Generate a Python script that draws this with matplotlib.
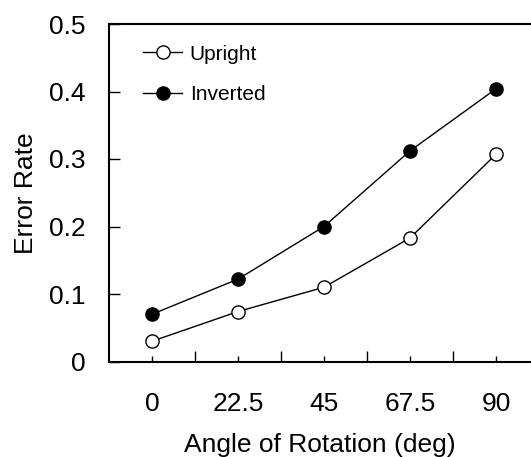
import matplotlib.pyplot as plt
from matplotlib.ticker import FixedLocator, FuncFormatter

plt.rcParams['font.family'] = ['Liberation Sans', 'DejaVu Sans']

angles = ['0', '22.5', '45', '67.5', '90']
upright = [0.030, 0.074, 0.110, 0.183, 0.307]
inverted = [0.070, 0.122, 0.200, 0.312, 0.404]

fig = plt.figure(figsize=(5.31, 4.57), dpi=100)
ax = fig.add_axes([109 / 531, 1 - 361.5 / 457, 422 / 531, 337.5 / 457])

x = list(range(len(angles)))
ax.plot(x, upright, '-o', color='black', lw=1, ms=9.5, mfc='white',
        mec='black', mew=1, label='Upright', zorder=3)
ax.plot(x, inverted, '-o', color='black', lw=1, ms=9.5, mfc='black',
        mec='black', mew=1, label='Inverted', zorder=3)

ax.set_xlim(-0.5, 4.407)
ax.set_ylim(0, 0.5)

# category boundaries get the long ticks, labels sit on the short ones
ax.xaxis.set_major_locator(FixedLocator([0.5, 1.5, 2.5, 3.5]))
ax.xaxis.set_major_formatter(FuncFormatter(lambda v, p: ''))
ax.set_xticks(x, angles, minor=True)
ax.tick_params(axis='x', which='major', direction='in', length=8, width=1)
ax.tick_params(axis='x', which='minor', direction='in', length=4, width=1,
               pad=22, labelsize=19)

ax.set_yticks([0, 0.1, 0.2, 0.3, 0.4, 0.5])
ax.set_yticklabels(['0', '0.1', '0.2', '0.3', '0.4', '0.5'])
ax.tick_params(axis='y', direction='in', length=8, width=1, pad=17,
               labelsize=19)

for s in ['left', 'bottom', 'top']:
    ax.spines[s].set_linewidth(1.5)
ax.spines['right'].set_visible(False)

ax.set_xlabel('Angle of Rotation (deg)', fontsize=19, labelpad=12)
ax.set_ylabel('Error Rate', fontsize=19, labelpad=8)

ax.legend(loc='upper left', bbox_to_anchor=(0.08, 0.939), frameon=False,
          fontsize=15, handlelength=1.9, handletextpad=0.35,
          labelspacing=1.04, borderpad=0, borderaxespad=0)

fig.savefig('out.png', dpi=100)
